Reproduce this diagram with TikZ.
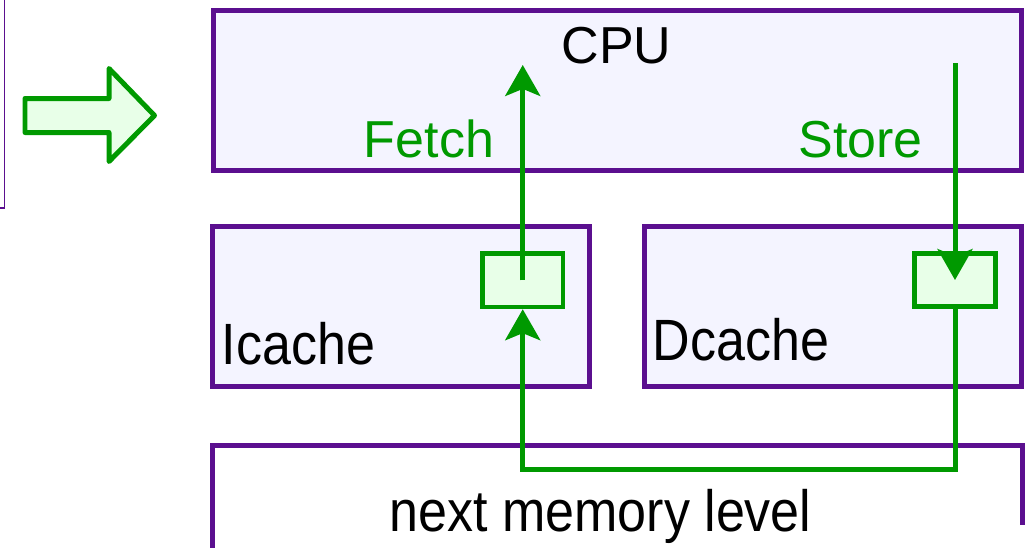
\documentclass[tikz,border=0pt]{standalone}
\usepackage{fontspec}
\setmainfont{Liberation Sans}
\usetikzlibrary{arrows.meta}
\definecolor{cachepurple}{RGB}{91,15,143}
\definecolor{flowgreen}{RGB}{0,153,0}
\definecolor{bufgreen}{RGB}{232,255,232}
\definecolor{boxfill}{RGB}{244,244,255}
\begin{document}
\begin{tikzpicture}[x=0.02cm,y=-0.02cm,
  >={Stealth[length=17.6pt,width=19.9pt,inset=4pt]},
  unit/.style={draw=cachepurple,line width=0.1cm,fill=boxfill,minimum height=3.22cm},
  buf/.style={draw=flowgreen,line width=0.09cm,fill=bufgreen},
  flow/.style={draw=flowgreen,line width=0.1cm},
  lbl/.style={inner sep=0,font=\fontsize{29.6}{35}\selectfont,anchor=base}]
\useasboundingbox (0,0) rectangle (1036,548);
% previous level, cut off at the edge
\draw[cachepurple,line width=0.04cm] (4.5,0) -- (4.5,208) -- (0,208);
\draw[flowgreen,fill=bufgreen,line width=0.1cm,line join=round]
  (25,98.5) -- (109,98.5) -- (109,68.5) -- (154.5,115.5) -- (109,161.5) -- (109,132.5) -- (25,132.5) -- cycle;
\node[unit,minimum width=16.18cm] (cpu) at (617.5,90.5) {};
\node[unit,minimum width=7.56cm] (icache) at (401,306.5) {};
\node[unit,minimum width=7.56cm] (dcache) at (833,306.5) {};
\draw[cachepurple,line width=0.1cm] (212,548) -- (212,445.5) -- (1022,445.5) -- (1022,525);
\node[buf,minimum width=1.61cm,minimum height=1.07cm] (ibuf) at (522.75,280.25) {};
\node[buf,minimum width=1.62cm,minimum height=1.06cm] (dbuf) at (955,280) {};
\node[lbl] (cpulbl) at (616.5,63) {CPU};
\node[lbl,text=flowgreen] (fetchlbl) at (429,157) {Fetch};
\node[lbl,text=flowgreen] (storelbl) at (860.5,157) {Store};
\node[lbl] (icachelbl) at (298.5,364) {\scalebox{1}[1.12]{Icache}};
\node[lbl] (dcachelbl) at (741,360) {\scalebox{1}[1.12]{Dcache}};
\node[lbl] (nextlbl) at (600.5,531) {\scalebox{1}[1.12]{next memory level}};
\coordinate (fetchtip) at (522.75,65);
\coordinate (storetail) at (955,63);
\coordinate (loop) at (0,469);
\draw[flow,->] (ibuf.center) -- (fetchtip);
\draw[flow,->] (storetail) -- (dbuf.center);
\draw[flow,->] (dbuf.south) -- (dbuf.south |- loop) -- (ibuf.south |- loop) -- (ibuf.south);
\end{tikzpicture}
\end{document}
